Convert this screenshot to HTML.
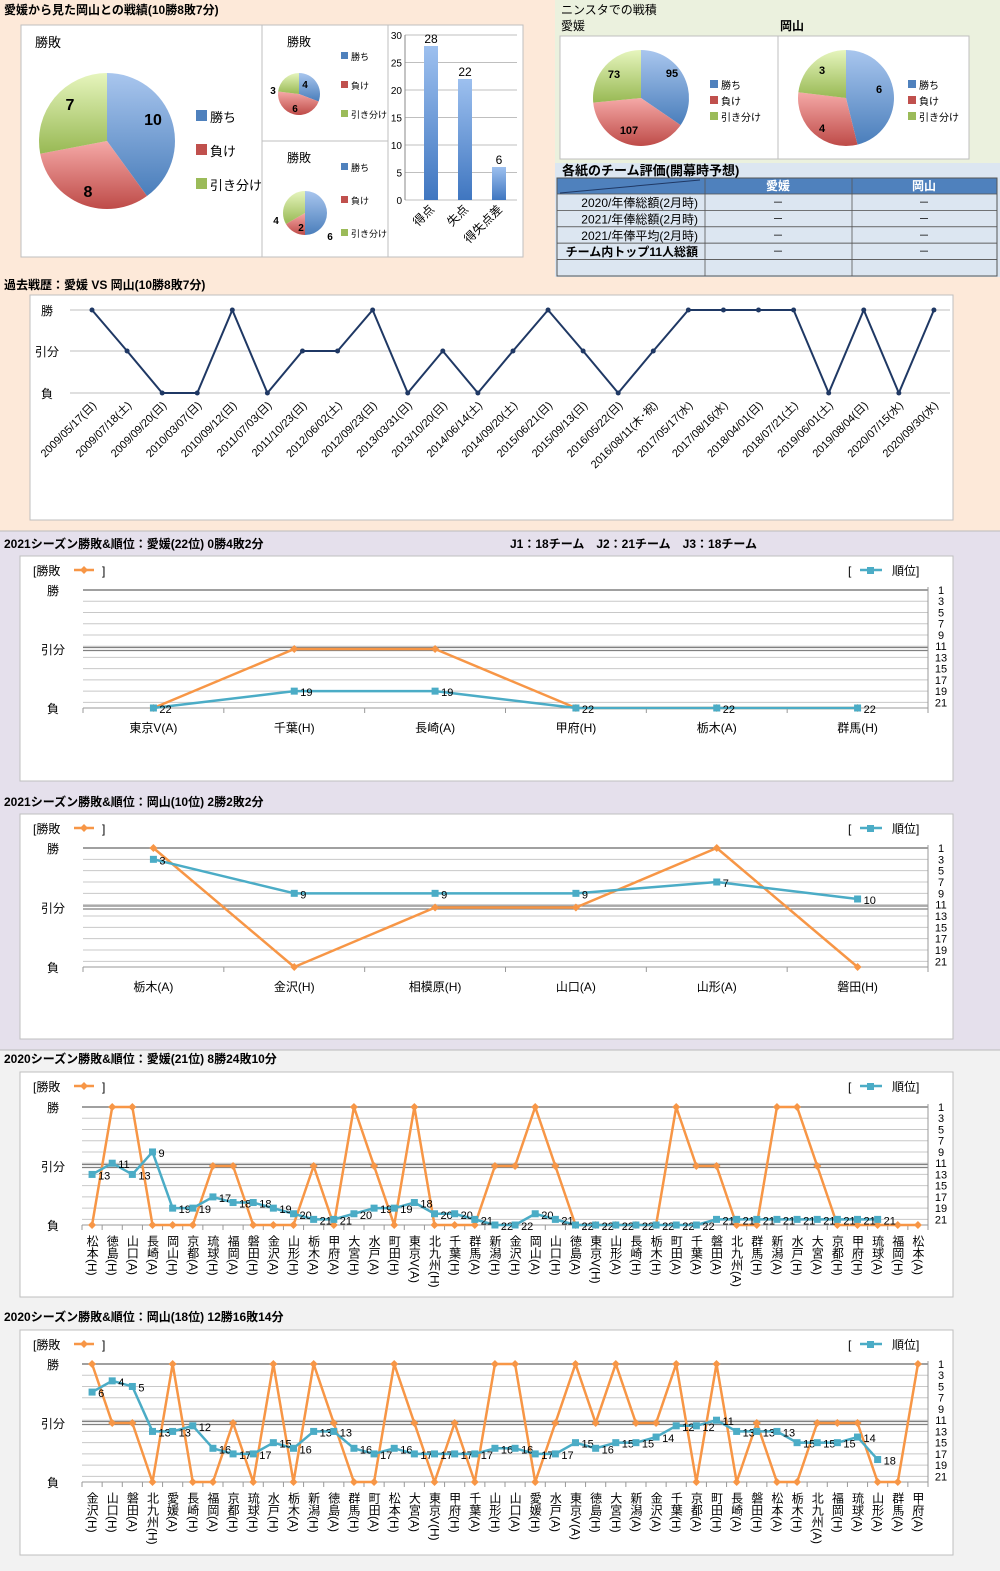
<!DOCTYPE html>
<html><head><meta charset="utf-8">
<style>
html,body{margin:0;padding:0;background:#fff;}
svg{display:block;font-family:"Liberation Sans","Noto Sans CJK JP",sans-serif;}
</style></head>
<body>
<svg id="s" width="1000" height="1571" viewBox="0 0 1000 1571" xmlns="http://www.w3.org/2000/svg"></svg>
<script>
let s='';
function R(x,y,w,h,f,st,sw){s+=`<rect x="${x}" y="${y}" width="${w}" height="${h}" fill="${f||'none'}" stroke="${st||'none'}" stroke-width="${sw||1}"/>`;}
function T(x,y,t,sz,an,w,f,extra){s+=`<text x="${x}" y="${y}" font-size="${sz||12}" text-anchor="${an||'start'}" font-weight="${w||'normal'}" fill="${f||'#000'}" ${extra||''}>${t}</text>`;}
function L(x1,y1,x2,y2,c,w){s+=`<line x1="${x1}" y1="${y1}" x2="${x2}" y2="${y2}" stroke="${c}" stroke-width="${w||1}"/>`;}
s+=`<defs>
<linearGradient id="gB" x1="0" y1="0" x2="0" y2="1"><stop offset="0" stop-color="#a9c6ee"/><stop offset="1" stop-color="#4a7ebb"/></linearGradient>
<linearGradient id="gR" x1="0" y1="0" x2="0" y2="1"><stop offset="0" stop-color="#f5a9a7"/><stop offset="1" stop-color="#be4b48"/></linearGradient>
<linearGradient id="gG" x1="0" y1="0" x2="0" y2="1"><stop offset="0" stop-color="#e6f5bd"/><stop offset="1" stop-color="#98b954"/></linearGradient>
<linearGradient id="gBar" x1="0" y1="0" x2="0" y2="1"><stop offset="0" stop-color="#9dc0ef"/><stop offset="1" stop-color="#3f76c0"/></linearGradient>
</defs>`;
R(0,0,1000,531,'#fde9d9');
R(555,0,445,163,'#ebf1de');
R(555,163,445,114,'#dce6f1');
R(0,531,1000,519,'#e5e0ec');
R(0,1050,1000,521,'#f2f2f2');
L(0,531,1000,531,'#bbb');L(0,1050,1000,1050,'#bbb');

function pie(cx,cy,r,vals,labs){
  const tot=vals.reduce((a,b)=>a+b,0);const fills=['url(#gB)','url(#gR)','url(#gG)'];
  let a=-Math.PI/2;
  vals.forEach((v,i)=>{const b=a+v/tot*2*Math.PI;
    const x1=cx+r*Math.cos(a),y1=cy+r*Math.sin(a),x2=cx+r*Math.cos(b),y2=cy+r*Math.sin(b);
    s+=`<path d="M${cx},${cy} L${x1},${y1} A${r},${r} 0 ${b-a>Math.PI?1:0} 1 ${x2},${y2} Z" fill="${fills[i]}"/>`;a=b;});
  labs.forEach(l=>T(l[0],l[1],l[2],l[3],'middle','bold'));
}
function leg(x,y,gap,sz){const c=['#4f81bd','#c0504d','#9bbb59'];const t=['勝ち','負け','引き分け'];
  for(let i=0;i<3;i++){R(x,y+i*gap-sz+1,sz-2,sz-2,c[i]);T(x+sz+1,y+i*gap,t[i],sz);}}

T(4,14,'愛媛から見た岡山との戦績(10勝8敗7分)',12,'start','bold');
R(21,25,502,232,'#fff','#bfbfbf');
L(262,25,262,257,'#bfbfbf');L(388,25,388,257,'#bfbfbf');L(262,141,388,141,'#bfbfbf');
T(35,47,'勝敗',13);
pie(107,141,68,[10,8,7],[[153,125,'10',16],[88,197,'8',16],[70,110,'7',16]]);
leg(196,122,34,13);
T(287,46,'勝敗',12);
pie(299,94,21,[4,6,3],[[305,88,'4',10],[295,112,'6',10],[273,94,'3',10]]);
leg(341,60,29,9);
T(287,162,'勝敗',12);
pie(305,213,22,[6,2,4],[[301,231,'2',10],[276,224,'4',10],[330,240,'6',10]]);
leg(341,171,33,9);
for(let v=0;v<=30;v+=5){const y=200-v*165/30;L(405,y,517,y,'#bfbfbf');T(402,y+4,v,10,'end');}
L(405,35,405,200,'#888');
[[28,431],[22,465],[6,499]].forEach(([v,x])=>{const h=v*165/30;R(x-7,200-h,14,h,'url(#gBar)');T(x,200-h-3,v,12,'middle');});
[['得点',431],['失点',465],['得失点差',499]].forEach(([t,x])=>T(x+4,210,t,12,'end','normal','#000',`transform="rotate(-45 ${x+4} 210)"`));

T(561,14,'ニンスタでの戦積',12);T(561,30,'愛媛',12);T(780,30,'岡山',12,'start','bold');
R(560,36,218,123,'#fff','#bfbfbf');R(778,36,191,123,'#fff','#bfbfbf');
pie(641,98,48,[95,107,73],[[672,77,'95',11],[629,134,'107',11],[614,78,'73',11]]);
leg(710,89,16,10);
pie(846,98,48,[6,4,3],[[879,93,'6',11],[822,132,'4',11],[822,74,'3',11]]);
leg(908,89,16,10);
T(562,175,'各紙のチーム評価(開幕時予想)',13,'start','bold');
R(557,178,440,16,'#4f81bd');
L(560,193,700,180,'#1f3864',1);
T(778,190,'愛媛',12,'middle','bold','#fff');T(924,190,'岡山',12,'middle','bold','#fff');
const rows=['2020/年俸総額(2月時)','2021/年俸総額(2月時)','2021/年俸平均(2月時)','チーム内トップ11人総額',''];
rows.forEach((r,i)=>{const y=194+i*16.4;R(557,y,440,16.4,'#dce6f1','#555',0.8);
  T(698,y+13,r,12,'end',i==3?'bold':'normal');if(r){T(778,y+12,'－',11,'middle');T(924,y+12,'－',11,'middle');}});
L(705,178,705,276,'#555',0.8);L(852,178,852,276,'#555',0.8);R(557,178,440,98,'none','#555',1);

T(4,289,'過去戦歴：愛媛 VS 岡山(10勝8敗7分)',12,'start','bold');
R(30,295,923,225,'#fff','#bfbfbf');
[310,351,393].forEach(y=>L(70,y,950,y,'#bfbfbf'));
T(47,315,'勝',12,'middle');T(47,356,'引分',12,'middle');T(47,398,'負',12,'middle');
const dates=['2009/05/17(日)','2009/07/18(土)','2009/09/20(日)','2010/03/07(日)','2010/09/12(日)','2011/07/03(日)','2011/10/23(日)','2012/06/02(土)','2012/09/23(日)','2013/03/31(日)','2013/10/20(日)','2014/06/14(土)','2014/09/20(土)','2015/06/21(日)','2015/09/13(日)','2016/05/22(日)','2016/08/11(木･祝)','2017/05/17(水)','2017/08/16(水)','2018/04/01(日)','2018/07/21(土)','2019/06/01(土)','2019/08/04(日)','2020/07/15(水)','2020/09/30(水)'];
const pr='WDLLWLDDWLDLDWDLDWWWWLWLW';
const ym={W:310,D:351,L:393};
let pts=[];for(let i=0;i<25;i++){const x=92+i*35.08;pts.push(x+','+ym[pr[i]]);
  T(x+5,406,dates[i],11,'end','normal','#000',`transform="rotate(-45 ${x+5} 406)"`);}
s+=`<polyline points="${pts.join(' ')}" fill="none" stroke="#1f3864" stroke-width="2"/>`;
pts.forEach(p=>{const [x,y]=p.split(',');s+=`<circle cx="${x}" cy="${y}" r="2.5" fill="#1f3864"/>`;});

function lc(top,cats,res,ranks,yW,yL,plotL,plotR,vert){
  R(20,top,933,225,'#fff','#bfbfbf');
  const yM=(yW+yL)/2;const n=cats.length;const st=(plotR-plotL)/n;
  const ry=r=>yW+(r-1)*(yL-yW)/21;
  for(let r=1;r<=21;r+=2)L(plotL,ry(r),plotR,ry(r),'#c8c8c8');
  L(plotL,yL,plotR,yL,'#999');
  L(plotL,yW,plotR,yW,'#808080',1.5);L(plotL,yM-1.5,plotR,yM-1.5,'#808080',1.2);L(plotL,yM+1.5,plotR,yM+1.5,'#808080',1.2);
  for(let i=0;i<=n;i++){const x=plotL+i*st;L(x,yL,x,yL+5,'#999');}
  L(plotR,yW-3,plotR,yL+3,'#999');
  for(let r=1;r<=21;r+=2)T(plotR+13,ry(r)+4,r,11,'middle');
  T(53,yW+5,'勝',12,'middle');T(53,yM+5,'引分',12,'middle');T(53,yL+5,'負',12,'middle');
  T(33,top+19,'[勝敗',12);L(74,top+14,94,top+14,'#f79646',2.5);s+=`<path d="M84,${top+10} l4,4 l-4,4 l-4,-4z" fill="#f79646"/>`;T(102,top+19,']',12);
  T(848,top+19,'[',12);L(860,top+14,882,top+14,'#4bacc6',2.5);R(867,top+11,7,7,'#4bacc6');T(892,top+19,'順位]',12);
  const yr={W:yW,D:yM,L:yL};let po=[];
  res.forEach((c,i)=>po.push((plotL+(i+.5)*st)+','+yr[c]));
  s+=`<polyline points="${po.join(' ')}" fill="none" stroke="#f79646" stroke-width="2.5" stroke-linejoin="round"/>`;
  po.forEach(p=>{const [x,y]=p.split(',').map(Number);s+=`<path d="M${x},${y-4} l4,4 l-4,4 l-4,-4z" fill="#f79646"/>`;});
  let pt=[];ranks.forEach((r,i)=>pt.push([plotL+(i+.5)*st,ry(r),r]));
  s+=`<polyline points="${pt.map(p=>p[0]+','+p[1]).join(' ')}" fill="none" stroke="#4bacc6" stroke-width="2.5" stroke-linejoin="round"/>`;
  pt.forEach(p=>{R(p[0]-3.5,p[1]-3.5,7,7,'#4bacc6');T(p[0]+6,p[1]+5,p[2],11);});
  cats.forEach((c,i)=>{const x=plotL+(i+.5)*st;
    if(vert)T(x,yL+10,c,12,'start','normal','#000','style="writing-mode:vertical-rl"');
    else T(x,yL+24,c,12,'middle');});
}
T(4,548,'2021シーズン勝敗&amp;順位：愛媛(22位) 0勝4敗2分',12,'start','bold');
T(510,548,'J1：18チーム　J2：21チーム　J3：18チーム',12,'start','bold');
lc(556,['東京V(A)','千葉(H)','長崎(A)','甲府(H)','栃木(A)','群馬(H)'],['L','D','D','L','L','L'],[22,19,19,22,22,22],590,708,83,928,false);
T(4,806,'2021シーズン勝敗&amp;順位：岡山(10位) 2勝2敗2分',12,'start','bold');
lc(814,['栃木(A)','金沢(H)','相模原(H)','山口(A)','山形(A)','磐田(H)'],['W','L','D','D','W','L'],[3,9,9,9,7,10],848,967,83,928,false);

T(4,1063,'2020シーズン勝敗&amp;順位：愛媛(21位) 8勝24敗10分',12,'start','bold');
const ce=['松本(H)','徳島(H)','山口(A)','長崎(A)','岡山(H)','京都(A)','琉球(H)','福岡(A)','磐田(H)','金沢(A)','山形(H)','栃木(A)','甲府(A)','大宮(H)','水戸(A)','町田(H)','東京V(A)','北九州(H)','千葉(H)','群馬(A)','新潟(H)','金沢(H)','岡山(A)','山口(H)','徳島(A)','東京V(H)','山形(A)','長崎(H)','栃木(H)','町田(A)','千葉(A)','磐田(A)','北九州(A)','群馬(H)','新潟(A)','水戸(H)','大宮(A)','京都(H)','甲府(H)','琉球(A)','福岡(H)','松本(A)'];
const re='LWWLLLDDLLLDLWDLWLLLDDWDLLLLLWDDLLWWDLLLLL'.split('');
const rke=[13,11,13,9,19,19,17,18,18,19,20,21,21,20,19,19,18,20,20,21,22,22,20,21,22,22,22,22,22,22,22,21,21,21,21,21,21,21,21,21];
lc(1072,ce,re,rke,1107,1225,82,928,true);

T(4,1321,'2020シーズン勝敗&amp;順位：岡山(18位) 12勝16敗14分',12,'start','bold');
const co=['金沢(H)','山口(H)','磐田(A)','北九州(H)','愛媛(A)','長崎(H)','福岡(A)','京都(H)','琉球(H)','水戸(H)','栃木(A)','新潟(H)','徳島(A)','群馬(H)','町田(A)','松本(H)','大宮(A)','東京V(H)','甲府(H)','千葉(A)','山形(H)','山口(A)','愛媛(H)','水戸(A)','東京V(A)','徳島(H)','大宮(H)','新潟(A)','金沢(A)','千葉(H)','京都(A)','町田(H)','長崎(A)','磐田(H)','松本(A)','栃木(H)','北九州(A)','福岡(H)','琉球(A)','山形(A)','群馬(A)','甲府(A)'];
const ro='WDDLWLLDLWLWDLLWDLDLWWLDWDWDDWLWLDLLDDDLLW'.split('');
const rko=[6,4,5,13,13,12,16,17,17,15,16,13,13,16,17,16,17,17,17,17,16,16,17,17,15,16,15,15,14,12,12,11,13,13,13,15,15,15,14,18];
lc(1330,co,ro,rko,1364,1482,82,928,true);

document.getElementById('s').innerHTML=s;
</script>
</body></html>
